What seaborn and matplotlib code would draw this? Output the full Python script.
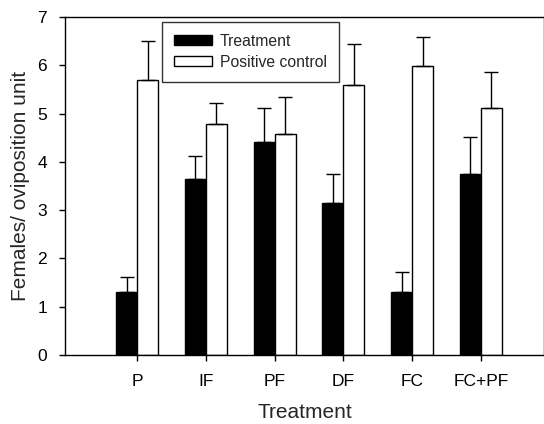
import matplotlib
matplotlib.use("Agg")
import matplotlib.pyplot as plt
import numpy as np
import pandas as pd
import seaborn as sns

categories = ["P", "IF", "PF", "DF", "FC", "FC+PF"]
treatment_mean = [1.30, 3.64, 4.42, 3.14, 1.30, 3.75]
treatment_err = [0.31, 0.49, 0.69, 0.60, 0.41, 0.76]
control_mean = [5.69, 4.78, 4.58, 5.60, 5.99, 5.11]
control_err = [0.82, 0.43, 0.77, 0.85, 0.60, 0.74]
groups = ["Treatment", "Positive control"]


def main() -> None:
    df = pd.DataFrame(
        {
            "category": categories * 2,
            "group": [groups[0]] * len(categories) + [groups[1]] * len(categories),
            "mean": treatment_mean + control_mean,
        }
    )

    sns.set_theme(style="ticks")
    plt.rcParams["font.family"] = ["Liberation Sans", "DejaVu Sans"]

    fig = plt.figure(figsize=(5.44, 4.24), dpi=100)
    ax = fig.add_axes([0.1195, 0.163, 0.8805, 0.797])

    sns.barplot(
        data=df,
        x="category",
        y="mean",
        hue="group",
        order=categories,
        hue_order=groups,
        palette=["black", "white"],
        width=0.61,
        edgecolor="black",
        linewidth=1,
        errorbar=None,
        saturation=1,
        ax=ax,
    )

    # upper-only error bars
    for container, errs in zip(ax.containers, [treatment_err, control_err]):
        xs = [p.get_x() + p.get_width() / 2 for p in container.patches]
        ys = [p.get_height() for p in container.patches]
        ax.errorbar(
            xs,
            ys,
            yerr=[np.zeros(len(errs)), errs],
            fmt="none",
            ecolor="black",
            elinewidth=1,
            capsize=5,
            capthick=1,
            zorder=1,
        )

    ax.set_xlim(-1.05, 5.92)
    ax.set_ylim(0, 7)
    ax.set_yticks(range(0, 8))
    ax.set_xlabel("Treatment", fontsize=15, labelpad=10)
    ax.set_ylabel("Females/ oviposition unit", fontsize=15, labelpad=5)
    ax.tick_params(axis="both", labelsize=12.5, direction="out", length=4, width=1, colors="black")
    ax.tick_params(axis="y", pad=9)
    ax.tick_params(axis="x", pad=10)
    for spine in ax.spines.values():
        spine.set_visible(True)
        spine.set_color("black")
        spine.set_linewidth(1)

    leg = ax.legend(
        loc="upper left",
        bbox_to_anchor=(0.2025, 0.985),
        fontsize=11.3,
        frameon=True,
        fancybox=False,
        edgecolor="black",
        handlelength=2.45,
        handleheight=0.6,
        handletextpad=0.5,
        borderpad=0.75,
        labelspacing=0.38,
        borderaxespad=0,
    )
    leg.get_frame().set_linewidth(1)
    leg.set_title(None)

    fig.savefig("out.png", dpi=100)
    plt.close(fig)


if __name__ == "__main__":
    main()
